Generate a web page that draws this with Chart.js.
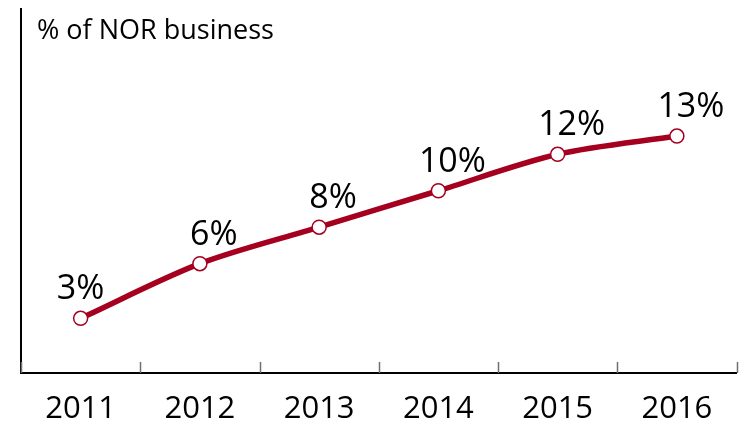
<!DOCTYPE html>
<html>
<head>
<meta charset="utf-8">
<script src="https://cdn.jsdelivr.net/npm/chart.js@4/dist/chart.umd.min.js"></script>
<style>
  html, body { margin: 0; padding: 0; background: #fff; }
  #wrap { width: 745px; height: 425px; position: relative; }
</style>
</head>
<body>
<div id="wrap"><canvas id="shareChart"></canvas></div>
<script>
const years = ['2011', '2012', '2013', '2014', '2015', '2016'];
const shareValues = [3, 6, 8, 10, 12, 13];
const shareLabels = ['3%', '6%', '8%', '10%', '12%', '13%'];
const axisTitle = '% of NOR business';

const lineColor = '#a5001f';
const fontFamily = "'Open Sans', 'Liberation Sans', sans-serif";

// title, point labels and the inner tick marks on the x axis
const decorations = {
  id: 'decorations',
  afterDraw(chart) {
    const ctx = chart.ctx;
    const x = chart.scales.x;
    const area = chart.chartArea;
    ctx.save();

    // tick marks between categories, pointing up into the plot
    ctx.strokeStyle = '#6f6f6f';
    ctx.lineWidth = 1.5;
    for (let i = 0; i <= years.length; i++) {
      const px = Math.round(x.getPixelForValue(i - 0.5)) + 0.5;
      ctx.beginPath();
      ctx.moveTo(px, area.bottom - 11);
      ctx.lineTo(px, area.bottom);
      ctx.stroke();
    }

    ctx.fillStyle = '#000';
    ctx.font = '27px ' + fontFamily;
    ctx.textAlign = 'left';
    ctx.textBaseline = 'alphabetic';
    ctx.fillText(axisTitle, 37, 39);

    ctx.font = '34px ' + fontFamily;
    ctx.textAlign = 'center';
    const meta = chart.getDatasetMeta(0);
    meta.data.forEach((pt, i) => {
      const shift = i === 0 ? 0 : 14;
      ctx.fillText(shareLabels[i], pt.x + shift, pt.y - 19);
    });
    ctx.restore();
  }
};

new Chart(document.getElementById('shareChart').getContext('2d'), {
  type: 'line',
  data: {
    labels: years,
    datasets: [{
      data: shareValues,
      borderColor: lineColor,
      borderWidth: 5.5,
      tension: 0.3,
      pointRadius: 7,
      pointBorderWidth: 1.5,
      pointBackgroundColor: '#fff',
      pointBorderColor: lineColor,
      fill: false
    }]
  },
  options: {
    responsive: true,
    maintainAspectRatio: false,
    animation: false,
    layout: { padding: { left: 21, right: 8, top: 1, bottom: 0 } },
    plugins: {
      legend: { display: false },
      tooltip: { enabled: false }
    },
    scales: {
      x: {
        offset: true,
        grid: { display: false, drawTicks: false },
        border: { display: true, color: '#000', width: 2 },
        ticks: {
          color: '#000',
          padding: 18,
          font: { family: fontFamily, size: 31 }
        },
        afterFit(scale) { scale.height = 52; }
      },
      y: {
        min: 0,
        max: 20,
        grid: { display: false, drawTicks: false },
        border: { display: true, color: '#000', width: 2 },
        ticks: { display: false }
      }
    }
  },
  plugins: [decorations]
});
</script>
</body>
</html>
